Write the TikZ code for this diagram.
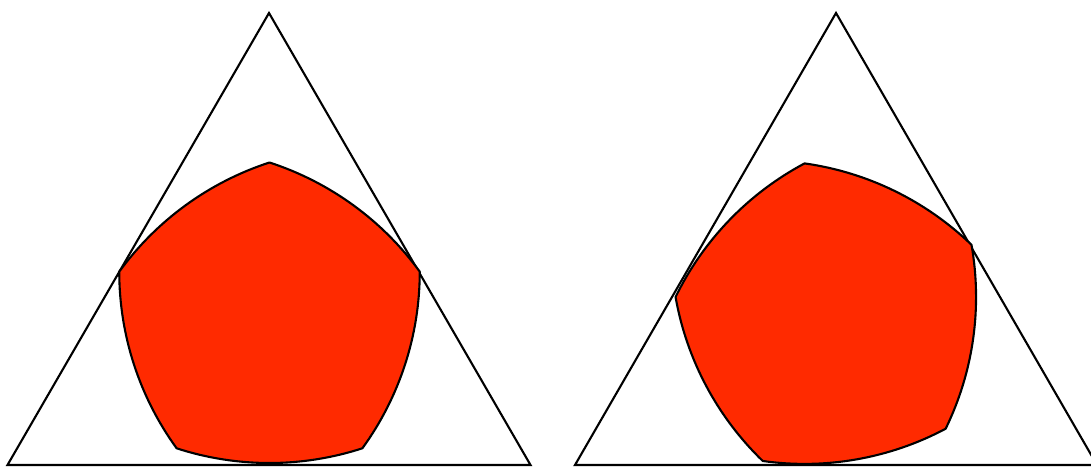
\documentclass[tikz,border=0pt]{standalone}
\definecolor{rotorred}{RGB}{255,42,0}
\tikzset{
  tri/.style={draw=black,line width=2.1pt,line join=miter},
  rotor/.style={draw=black,fill=rotorred,line width=2.1pt,line join=round}
}
\newcommand\reuleauxrotor[3]{%
  \filldraw[rotor] ([shift={(#1pt,#2pt)}]#3:158pt)
    arc[start angle=#3+18,end angle=#3+54,radius=300.5pt]
    arc[start angle=#3+90,end angle=#3+126,radius=300.5pt]
    arc[start angle=#3+162,end angle=#3+198,radius=300.5pt]
    arc[start angle=#3+234,end angle=#3+270,radius=300.5pt]
    arc[start angle=#3+306,end angle=#3+342,radius=300.5pt] -- cycle;}
\begin{document}
\begin{tikzpicture}[x=1pt,y=1pt]
\useasboundingbox (0,0) rectangle (1091,466);
\clip (0,0) rectangle (1091,466);
% left
\coordinate (LA) at (269,453);
\coordinate (LB) at (7.5,1);
\coordinate (LC) at (530.5,1);
\draw[tri] (LA) -- (LB) -- (LC) -- cycle;
\reuleauxrotor{269.5}{145.5}{90}
% right
\coordinate (RA) at (836,453);
\coordinate (RB) at (575,1);
\coordinate (RC) at (1097,1);
\draw[tri] (RA) -- (RB) -- (RC) -- cycle;
\reuleauxrotor{832}{147}{100}
\end{tikzpicture}
\end{document}
